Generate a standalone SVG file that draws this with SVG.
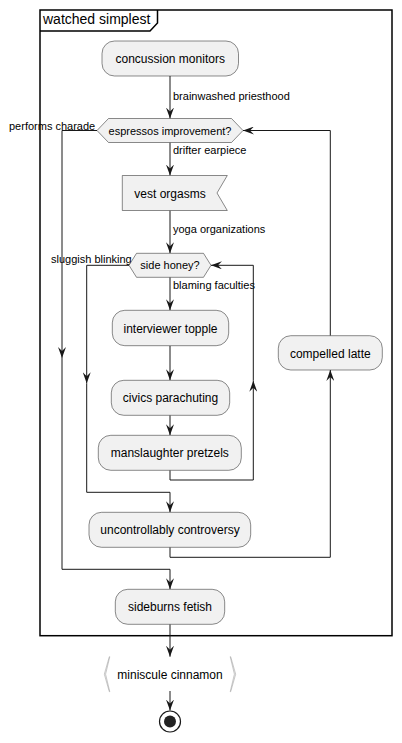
<svg xmlns="http://www.w3.org/2000/svg" width="402" height="743" viewBox="0 0 402 743">
<style>
.n{fill:#F1F1F1;stroke:#181818;stroke-width:0.5}
.t{font-family:"Liberation Sans",Arial,sans-serif;font-size:12px;fill:#000;text-anchor:middle}
.s{font-family:"Liberation Sans",Arial,sans-serif;font-size:11px;fill:#000}
.l{fill:none;stroke:#181818;stroke-width:1}
</style>
<defs>
<marker id="a" viewBox="0 0 11 8" refX="11" refY="4" markerWidth="11" markerHeight="8" markerUnits="userSpaceOnUse" orient="auto">
<path d="M0,0 L11,4 L0,8 L4,4 Z" fill="#181818"/>
</marker>
</defs>
<rect width="402" height="743" fill="#fff"/>
<g id="frame">
<rect x="40" y="10" width="352" height="625.7" fill="none" stroke="#000" stroke-width="1.5"/>
<polyline points="40,31 150,31 157.5,23 157.5,10" fill="none" stroke="#000" stroke-width="1.5"/>
<text x="43" y="24" font-family="Liberation Sans,Arial,sans-serif" font-size="14" fill="#000">watched simplest</text>
</g>
<g id="connectors">
<path class="l" d="M170,76 V118.5" marker-end="url(#a)"/>
<text class="s" x="173" y="100">brainwashed priesthood</text>
<text class="s" x="9" y="129.5">performs charade</text>
<path class="l" d="M97,130.5 H62 V358" marker-end="url(#a)"/>
<path class="l" d="M62,358 V569.3 H170 V589.3" marker-end="url(#a)"/>
<path class="l" d="M170,142.5 V175.5" marker-end="url(#a)"/>
<text class="s" x="173" y="154">drifter earpiece</text>
<path class="l" d="M170,210.5 V253.3" marker-end="url(#a)"/>
<text class="s" x="173" y="233">yoga organizations</text>
<text class="s" x="51" y="263">sluggish blinking</text>
<path class="l" d="M129,265.3 H86.7 V383.3" marker-end="url(#a)"/>
<path class="l" d="M86.7,383.3 V492.3 H170 V512.3" marker-end="url(#a)"/>
<path class="l" d="M170,277.3 V310.3" marker-end="url(#a)"/>
<text class="s" x="173" y="289">blaming faculties</text>
<path class="l" d="M170,345.7 V380.3" marker-end="url(#a)"/>
<path class="l" d="M170,415.3 V435.3" marker-end="url(#a)"/>
<path class="l" d="M170,470.3 V480 H253.3 V380.7" marker-end="url(#a)"/>
<path class="l" d="M253.3,380.7 V265.3 H211" marker-end="url(#a)"/>
<path class="l" d="M170,547.3 V557.3 H330.3 V370" marker-end="url(#a)"/>
<path class="l" d="M330.3,335.7 V130.5 H243" marker-end="url(#a)"/>
<path class="l" d="M170,624.3 V656.7" marker-end="url(#a)"/>
<path class="l" d="M170,691 V710.5" marker-end="url(#a)"/>
</g>
<g id="concussion-monitors">
<rect class="n" x="102" y="41" width="136.5" height="35" rx="12.5"/>
<text class="t" x="170.2" y="63">concussion monitors</text>
</g>
<g id="espressos-improvement">
<polygon class="n" points="97,130.5 108.5,118.5 231.5,118.5 243,130.5 231.5,142.5 108.5,142.5"/>
<text class="s" x="170" y="134.5" text-anchor="middle">espressos improvement?</text>
</g>
<g id="vest-orgasms">
<polygon class="n" points="122.3,175.5 227.3,175.5 217,193 227.3,210.5 122.3,210.5"/>
<text class="t" x="170" y="197.5">vest orgasms</text>
</g>
<g id="side-honey">
<polygon class="n" points="129,265.3 136.5,253.3 203.5,253.3 211,265.3 203.5,277.3 136.5,277.3"/>
<text class="s" x="170" y="269.3" text-anchor="middle">side honey?</text>
</g>
<g id="interviewer-topple">
<rect class="n" x="112.3" y="310.3" width="116.4" height="35.4" rx="12.5"/>
<text class="t" x="170.5" y="332.5">interviewer topple</text>
</g>
<g id="civics-parachuting">
<rect class="n" x="111.3" y="380.3" width="118.4" height="35" rx="12.5"/>
<text class="t" x="170.5" y="402.3">civics parachuting</text>
</g>
<g id="manslaughter-pretzels">
<rect class="n" x="98.3" y="435.3" width="143" height="35" rx="12.5"/>
<text class="t" x="169.8" y="457.3">manslaughter pretzels</text>
</g>
<g id="compelled-latte">
<rect class="n" x="278.3" y="335.7" width="104" height="34.3" rx="12.5"/>
<text class="t" x="330.3" y="357.5">compelled latte</text>
</g>
<g id="uncontrollably-controversy">
<rect class="n" x="89" y="512.3" width="161.7" height="35" rx="12.5"/>
<text class="t" x="170" y="534.3">uncontrollably controversy</text>
</g>
<g id="sideburns-fetish">
<rect class="n" x="115.3" y="589.3" width="109.4" height="35" rx="12.5"/>
<text class="t" x="170" y="611.3">sideburns fetish</text>
</g>
<g id="miniscule-cinnamon">
<path d="M109.3,656.7 L104.3,674.2 L109.3,691.7 L109.8,691.7 L105.6,674.2 L109.8,656.7 Z" fill="#F1F1F1" stroke="#999" stroke-width="0.5"/>
<path d="M230.7,656.7 L235.7,674.2 L230.7,691.7 L230.2,691.7 L234.4,674.2 L230.2,656.7 Z" fill="#F1F1F1" stroke="#999" stroke-width="0.5"/>
<text class="t" x="170" y="678.5">miniscule cinnamon</text>
</g>
<g id="end">
<circle cx="170" cy="721.5" r="10.5" fill="#fff" stroke="#181818" stroke-width="1.2"/>
<circle cx="170" cy="721.5" r="6" fill="#222"/>
</g>
</svg>
